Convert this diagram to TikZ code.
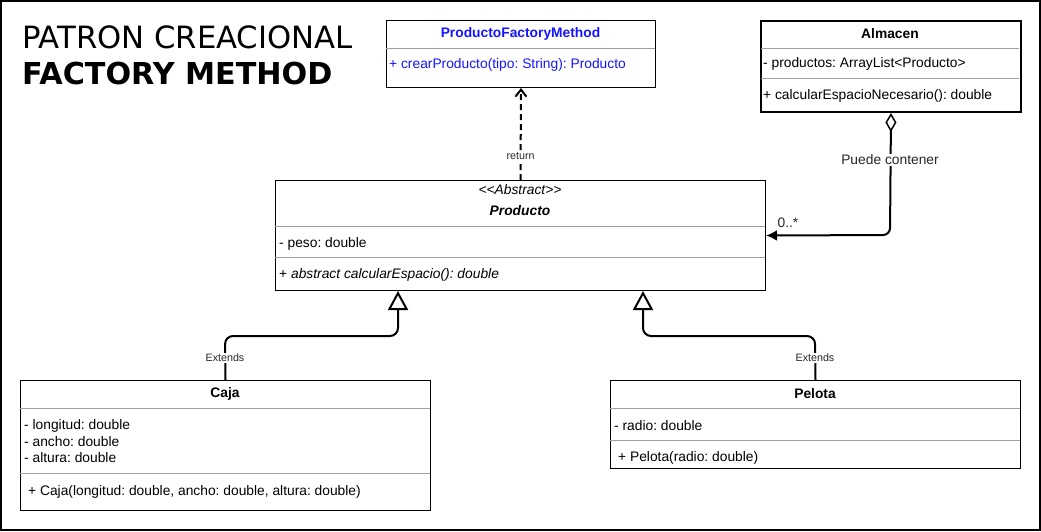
\documentclass[tikz,border=0pt]{standalone}
\usepackage{fontspec}
\setmainfont{Liberation Sans}[Ligatures=NoCommon]
\newfontfamily\titlefont{DejaVu Sans}
\usetikzlibrary{arrows.meta}
\definecolor{ublue}{RGB}{20,20,255}
\definecolor{sep}{RGB}{160,160,160}
\frenchspacing
\begin{document}
\begin{tikzpicture}[x=1pt,y=-1pt,
  umlbox/.style={draw=black,line width=1pt,anchor=north west,inner sep=0pt},
  septxt/.style={draw=sep,line width=1pt},
  txt/.style={font=\fontsize{13.8}{16}\selectfont,inner sep=0pt,anchor=west,yshift=-1.5pt},
  btxt/.style={font=\bfseries\fontsize{13.8}{16}\selectfont,inner sep=0pt,anchor=center,yshift=-1.5pt},
  lbl/.style={font=\fontsize{10.7}{12}\selectfont,fill=white,inner sep=1pt,text=black!85},
  conn/.style={line width=2pt,line join=round}]
\useasboundingbox (0,0) rectangle (1041,531);
\draw[line width=1.5pt] (1,1) rectangle (1040,530);
% title
\node[anchor=base west,inner sep=0pt,font=\titlefont\fontsize{30.7}{34}\selectfont] (t1) at (22,48) {PATRON CREACIONAL};
\node[anchor=base west,inner sep=0pt,font=\titlefont\bfseries\fontsize{30.2}{34}\selectfont] (t2) at (22,84) {FACTORY METHOD};
% ProductoFactoryMethod
\node[umlbox,minimum width=269pt,minimum height=67pt] (pfm) at (386,20) {};
\draw[septxt] (386,48) -- (655,48);
\node[btxt,text=ublue] (pfmn) at (520.5,32) {ProductoFactoryMethod};
\node[txt,text=ublue] (pfmm) at (389,63) {+ crearProducto(tipo: String): Producto};
% Almacen
\node[umlbox,line width=2pt,minimum width=260pt,minimum height=91pt] (alm) at (760,20) {};
\draw[septxt] (761,48) -- (1019,48);
\draw[septxt] (761,78) -- (1019,78);
\node[btxt] (almn) at (890,32) {Almacen};
\node[txt] (alma) at (763,62) {- productos: ArrayList{<}Producto{>}};
\node[txt] (almm) at (763,94) {+ calcularEspacioNecesario(): double};
% Producto
\node[umlbox,minimum width=490pt,minimum height=110pt] (prod) at (275,180) {};
\draw[septxt] (275,226) -- (765,226);
\draw[septxt] (275,257) -- (765,257);
\node[txt,anchor=center,font=\itshape\fontsize{13.8}{16}\selectfont] (prods) at (520,188) {{<}{<}Abstract{>}{>}};
\node[btxt,font=\bfseries\itshape\fontsize{13.8}{16}\selectfont] (prodn) at (520,209) {Producto};
\node[txt] (proda) at (279,242) {- peso: double};
\node[txt] (prodm) at (279,273) {+ \textit{abstract calcularEspacio(): double}};
% Caja
\node[umlbox,minimum width=410pt,minimum height=130pt] (caja) at (20,380) {};
\draw[septxt] (20,408) -- (430,408);
\draw[septxt] (20,473) -- (430,473);
\node[btxt] (cajan) at (225,392) {Caja};
\node[txt] (caja1) at (24,424) {- longitud: double};
\node[txt] (caja2) at (24,440) {- ancho: double};
\node[txt] (caja3) at (24,456) {- altura: double};
\node[txt] (cajam) at (28,490) {+ Caja(longitud: double, ancho: double, altura: double)};
% Pelota
\node[umlbox,minimum width=410pt,minimum height=88pt] (pel) at (610,380) {};
\draw[septxt] (610,408) -- (1020,408);
\draw[septxt] (610,440) -- (1020,440);
\node[btxt] (peln) at (815,392) {Pelota};
\node[txt] (pela) at (614,424) {- radio: double};
\node[txt] (pelm) at (618,456) {+ Pelota(radio: double)};
% connectors
\draw[conn,dash pattern=on 6pt off 4pt,-{Straight Barb[length=7pt,width=11pt,line width=2pt]}] (prod.north) -- (pfm.south) node[lbl,pos=0.26] (lret) {return};
\draw[conn,rounded corners=7pt,{Diamond[open,length=19pt,width=11pt,line width=1.5pt]}-{Latex[length=11pt,width=11pt]}] (alm.south) -- (890,235) -- (prod.east);
\node[lbl,font=\fontsize{13.8}{16}\selectfont] (lpc) at (890,160) {Puede contener};
\node[txt,anchor=center,text=black!85] (lmult) at (788,221) {0..*};
\draw[conn,rounded corners=8pt,-{Triangle[open,length=19pt,width=20pt,line width=2pt]}] (caja.north) -- (225,336) -- (398,336) -- (prod.south west -| 398,0);
\node[lbl] (lext1) at (225,358) {Extends};
\draw[conn,rounded corners=8pt,-{Triangle[open,length=19pt,width=20pt,line width=2pt]}] (pel.north) -- (815,336) -- (643,336) -- (prod.south west -| 643,0);
\node[lbl] (lext2) at (815,358) {Extends};
\end{tikzpicture}
\end{document}
